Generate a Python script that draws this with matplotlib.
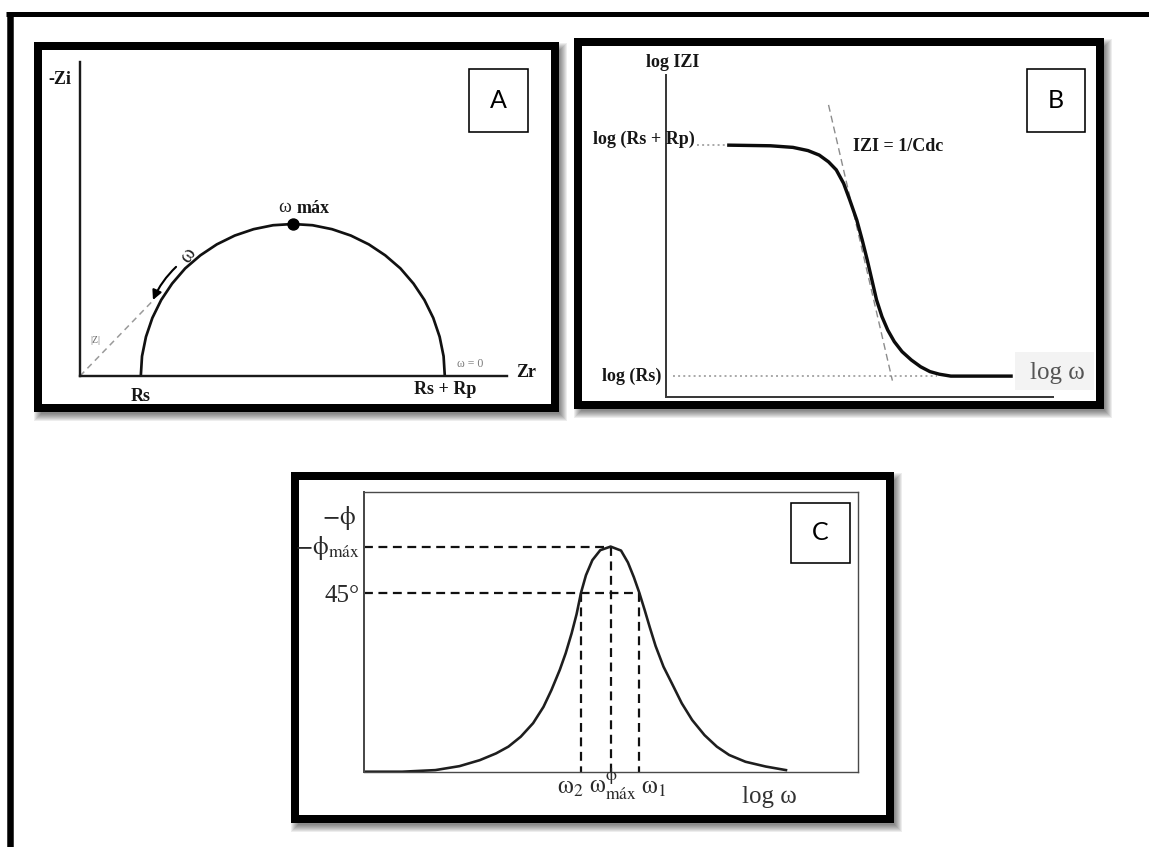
import matplotlib
matplotlib.use("Agg")
import matplotlib.pyplot as plt
from matplotlib.patches import Rectangle, FancyArrowPatch

W, H = 1149, 847
SERIF = ["Liberation Serif", "DejaVu Serif"]
plt.rcParams["mathtext.fontset"] = "stix"
plt.rcParams["mathtext.default"] = "rm"

# A: Nyquist semicircle, -Zi vs Zr (arbitrary ohm units)
RS, RP = 20.0, 100.0
nyq_zr = [20.0, 20.4, 21.7, 23.8, 26.7, 30.3, 34.6, 39.6, 45.0, 50.9, 57.1, 63.5, 70.0,
          76.5, 82.9, 89.1, 95.0, 100.4, 105.4, 109.7, 113.3, 116.2, 118.3, 119.6, 120.0]
nyq_zi = [0.0, 6.5, 12.9, 19.1, 25.0, 30.4, 35.4, 39.7, 43.3, 46.2, 48.3, 49.6, 50.0,
          49.6, 48.3, 46.2, 43.3, 39.7, 35.4, 30.4, 25.0, 19.1, 12.9, 6.5, 0.0]
wmax_zr, wmax_zi = 70.0, 50.0
zmod_tip = (23.7, 24.5)          # end of the |Z| vector
w_arrow = [(31.6, 35.9), (24.0, 25.0)]

# B: Bode modulus, log|Z| vs log w (arbitrary units)
LOG_RS, LOG_RSRP = 6.4, 78.2
bode_logw = [15.8, 27.0, 32.8, 36.7, 39.6, 42.0, 44.0, 45.9, 47.5, 49.3, 50.7, 52.0,
             53.2, 54.4, 55.8, 57.3, 59.0, 61.0, 63.4, 65.8, 68.2, 70.6, 73.6, 89.6]
bode_logz = [78.2, 78.0, 77.5, 76.5, 75.1, 73.0, 70.5, 66.3, 61.1, 54.9, 48.7, 42.5,
             36.3, 30.1, 24.9, 20.7, 17.1, 14.0, 11.4, 9.3, 7.8, 7.0, 6.4, 6.4]
tangent_logw = [42.0, 58.5]
tangent_logz = [90.7, 5.0]

# C: Bode phase, -phi (deg) vs log w
PHI_MAX, W_PHI_MAX = 56.6, 50.0
W2, W1 = 44.0, 55.8
phase_logw = [0.0, 7.8, 14.5, 19.4, 23.5, 26.8, 29.3, 31.8, 34.3, 36.4, 38.0, 39.7, 40.9,
              42.1, 43.1, 44.0, 45.0, 46.3, 47.9, 50.0, 52.1, 53.5, 54.7, 55.8, 56.9, 57.9,
              59.1, 60.7, 62.4, 64.4, 66.5, 69.0, 71.5, 74.0, 77.3, 81.4, 85.5]
phase_deg = [0.0, 0.0, 0.4, 1.4, 2.9, 4.6, 6.3, 8.8, 12.2, 16.3, 20.5, 25.6, 29.8,
             34.8, 39.6, 45.0, 49.4, 53.2, 55.7, 56.6, 55.6, 52.6, 48.9, 45.0, 40.6, 36.4,
             31.6, 26.4, 22.2, 17.2, 13.0, 9.2, 6.3, 4.2, 2.5, 1.3, 0.4]


def px(v):
    """pixels -> points at 100 dpi"""
    return v * 72 / 100


fig = plt.figure(figsize=(W / 100, H / 100), dpi=100)
bg = fig.add_axes([0, 0, 1, 1])
bg.set_xlim(0, W); bg.set_ylim(H, 0); bg.axis("off")

# page border: top and left edges only
bg.plot([6, W], [14.2, 14.2], color="black", lw=px(5), solid_capstyle="butt")
bg.plot([9.7, 9.7], [11.7, H], color="black", lw=px(6.5), solid_capstyle="butt")


def panel(x0, y0, x1, y1, lw=8):
    # soft drop shadow, then white card with heavy black frame
    for k in range(8):
        g = 4 - k
        bg.add_patch(Rectangle((x0 + 4 - g, y0 + 5 - g), x1 - x0 + 2 * g, y1 - y0 + 2 * g,
                               fc="black", alpha=0.07, lw=0, zorder=1))
    h = lw / 2
    bg.add_patch(Rectangle((x0 + h, y0 + h), x1 - x0 - lw, y1 - y0 - lw, fc="white",
                           ec="black", lw=px(lw), zorder=2))


def tag(x0, y0, x1, y1, letter):
    bg.add_patch(Rectangle((x0, y0), x1 - x0, y1 - y0, fc="white", ec="black",
                           lw=px(1.6), zorder=3))
    bg.text((x0 + x1) / 2, (y0 + y1) / 2, letter, ha="center", va="center",
            fontsize=18, family="Lato", zorder=4)


def data_axes(x0, y0, x1, y1, xlim, ylim):
    ax = fig.add_axes([x0 / W, 1 - y1 / H, (x1 - x0) / W, (y1 - y0) / H])
    ax.set_xlim(*xlim); ax.set_ylim(*ylim)
    ax.patch.set_visible(False)
    ax.set_xticks([]); ax.set_yticks([])
    return ax


panel(33.5, 42.5, 558.5, 411.7)
panel(574, 38.3, 1103.5, 409.3)
panel(291, 471.7, 893.5, 823.3)
tag(469, 69, 528, 132, "A")
tag(1027, 69, 1085, 132, "B")
tag(791, 503, 850, 563, "C")

bold = dict(family=SERIF, fontweight="bold", fontsize=13, color="#161616")

# ---- A: Nyquist
axA = data_axes(80, 62, 507, 376, (0, 140.46), (0, 103.3))
for s in ("top", "right"):
    axA.spines[s].set_visible(False)
for s in ("left", "bottom"):
    axA.spines[s].set_linewidth(px(2.4)); axA.spines[s].set_color("#1a1a1a")
axA.plot(nyq_zr, nyq_zi, color="#111111", lw=px(2.7), solid_capstyle="butt")
axA.plot([0, zmod_tip[0]], [0, zmod_tip[1]], color="#9a9a9a", lw=1.1, dashes=(4, 3))
axA.plot([wmax_zr], [wmax_zi], "o", color="black", ms=px(11))
axA.add_patch(FancyArrowPatch(w_arrow[0], w_arrow[1], arrowstyle="-|>", mutation_scale=14,
                              lw=1.5, color="black", connectionstyle="arc3,rad=0.1",
                              shrinkA=0, shrinkB=0))
axA.text(35.6, 39.6, "ω", rotation=55, ha="center", va="center", fontsize=15,
         family=SERIF, color="#222222")
axA.text(-6.6, 97.7, "-Zi", ha="center", va="center", **bold)
axA.text(146.7, 1.0, "Zr", ha="center", va="center", **bold)
axA.text(RS, -6.6, "Rs", ha="center", va="center", **bold)
axA.text(RS + RP, -4.6, "Rs + Rp", ha="center", va="center", **bold)
axA.text(65.3, 53.9, "ω", ha="left", va="baseline", fontsize=14, family=SERIF,
         color="#222222")
axA.text(71.4, 53.6, "máx", ha="left", va="baseline", **bold)
axA.text(4.9, 11.8, "|Z|", ha="center", va="center", fontsize=7, family=SERIF,
         color="#6a6a6a")
axA.text(128.3, 3.9, "ω = 0", ha="center", va="center", fontsize=8.5, family=SERIF,
         color="#7a7a7a")

# ---- B: Bode modulus
axB = data_axes(666, 75, 1053, 396.7, (0, 100), (0, 100))
for s in ("top", "right"):
    axB.spines[s].set_visible(False)
for s in ("left", "bottom"):
    axB.spines[s].set_linewidth(px(2.0)); axB.spines[s].set_color("#3a3a3a")
axB.plot([7.9, bode_logw[0]], [LOG_RSRP, LOG_RSRP], color="#a8a8a8", lw=1.4, ls=":")
axB.plot([1.9, 70.0], [LOG_RS, LOG_RS], color="#a8a8a8", lw=1.4, ls=":")
axB.plot(tangent_logw, tangent_logz, color="#8c8c8c", lw=1.0, dashes=(5, 3))
axB.plot(bode_logw, bode_logz, color="#0c0c0c", lw=px(3.4), solid_capstyle="butt")
axB.add_patch(Rectangle((90.2, 2.1), 20.4, 11.8, fc="#f3f3f3", lw=0, clip_on=False, zorder=0))
axB.text(1.8, 104.0, "log IZI", ha="center", va="center", **bold)
axB.text(7.5, 80.0, "log (Rs + Rp)", ha="right", va="center", **bold)
axB.text(48.3, 77.9, "IZI = 1/Cdc", ha="left", va="center", **bold)
axB.text(-1.1, 6.4, "log (Rs)", ha="right", va="center", **bold)
axB.text(94.0, 7.4, "log ω", ha="left", va="center", fontsize=18, family=SERIF,
         color="#555555")

# ---- C: Bode phase
axC = data_axes(363.7, 491.7, 857.6, 771.7, (0, 100), (0, 70.4))
for s in axC.spines.values():
    s.set_linewidth(px(1.4)); s.set_color("#4a4a4a")
axC.spines["left"].set_linewidth(px(2.0))
dash = dict(color="#111111", lw=1.6, dashes=(4, 2.5))
axC.plot([0, W_PHI_MAX], [PHI_MAX, PHI_MAX], **dash)
axC.plot([0, W1], [45, 45], **dash)
axC.plot([W2, W2], [45, 0], **dash)
axC.plot([W_PHI_MAX, W_PHI_MAX], [PHI_MAX, 0], **dash)
axC.plot([W1, W1], [45, 0], **dash)
axC.plot(phase_logw, phase_deg, color="#1e1e1e", lw=px(2.6))
light = dict(color="#2a2a2a", fontsize=18)
axC.text(-5.0, 63.7, r"$-\phi$", ha="center", va="center", **light)
axC.text(-0.8, 54.8, r"$-\phi_{máx}$", ha="right", va="baseline", **light)
axC.text(-0.8, 44.2, "45°", ha="right", va="center", family=SERIF, **light)
wlab = dict(color="#2a2a2a", fontsize=18, va="baseline")
axC.text(41.8, -5.4, r"$ω_2$", ha="center", **wlab)
axC.text(50.4, -5.4, r"$ω^{\phi}_{máx}$", ha="center", **wlab)
axC.text(58.6, -5.4, r"$ω_1$", ha="center", **wlab)
axC.text(82.2, -6.4, "log ω", ha="center", va="center", family=SERIF, color="#333333",
         fontsize=18)

fig.savefig("out.png", dpi=100)
